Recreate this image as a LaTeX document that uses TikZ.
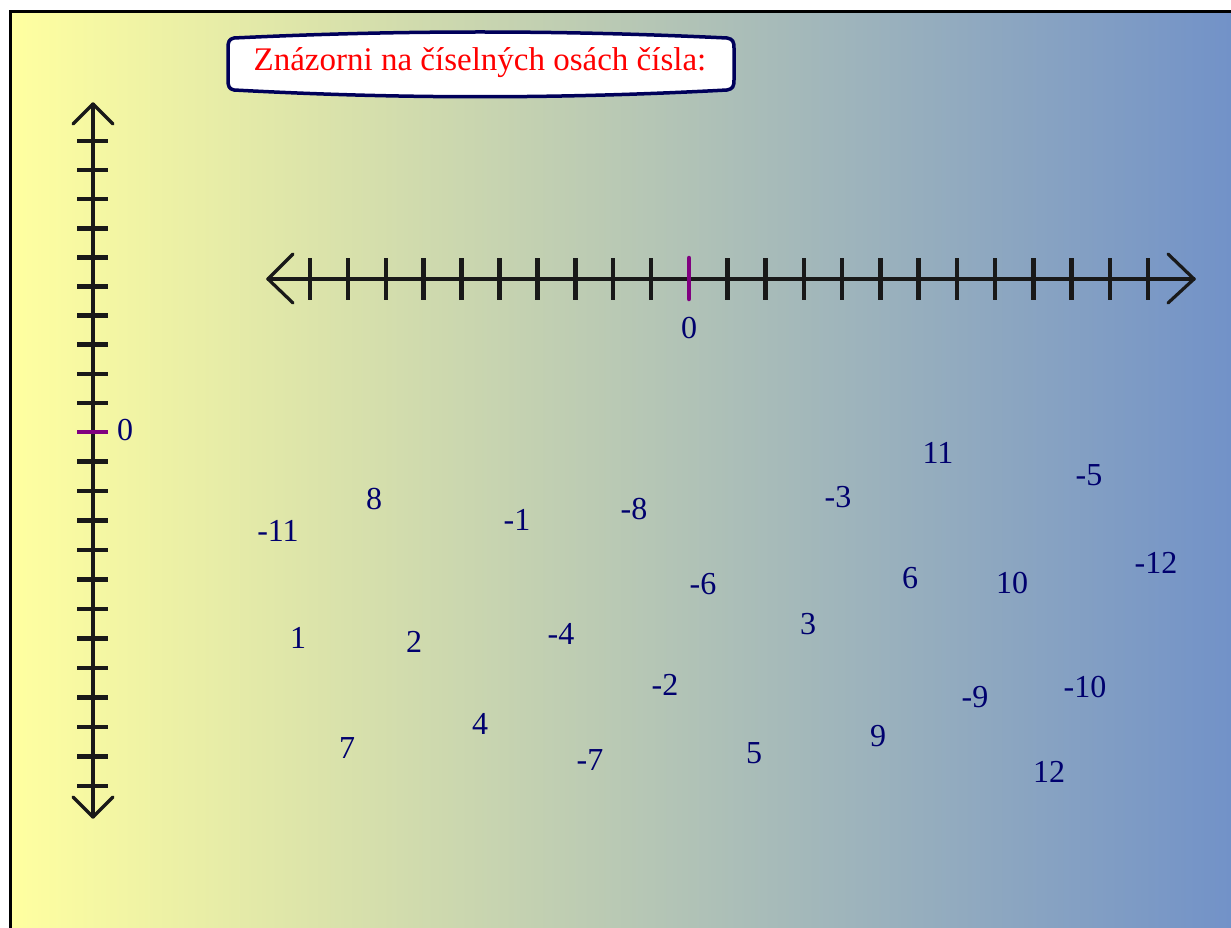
\documentclass[tikz,border=0pt]{standalone}
\usepackage{fontspec}
\setmainfont{Liberation Serif}
\definecolor{bgyellow}{RGB}{255,255,160}
\definecolor{bgblue}{RGB}{114,146,200}
\definecolor{numblue}{RGB}{0,0,110}
\definecolor{zeromag}{RGB}{128,0,128}
\definecolor{boxnavy}{RGB}{0,0,90}
\begin{document}
\begin{tikzpicture}[x=1pt,y=-1pt,
  num/.style={text=numblue, font=\fontsize{32}{36}\selectfont, inner sep=0pt},
  tickmark/.style={line width=4.5pt, black!90},
  axisline/.style={line width=3.2pt, black!90, line cap=round, line join=round},
  titlebox/.style={draw=boxnavy, line width=3.5pt, fill=white}]
\useasboundingbox (0,0) rectangle (1231,928);
\fill[white] (0,0) rectangle (1231,928);
\shade[left color=bgyellow, right color=bgblue] (10,12) rectangle (1231,928);
\draw[line width=3pt] (10,928) -- (10,12) -- (1231,12);

% title
\draw[titlebox] (234,38) .. controls (400,30) and (560,30) .. (727,38)
  .. controls (733,39) and (734,42) .. (734,48) -- (734,80)
  .. controls (734,86) and (733,89) .. (727,90)
  .. controls (560,99) and (400,99) .. (234,90)
  .. controls (229,89) and (228,86) .. (228,80) -- (228,48)
  .. controls (228,42) and (229,39) .. (234,38) -- cycle;
\node[text=red, font=\fontsize{33}{38}\selectfont, inner sep=0pt, anchor=base] (title) at (480,71) {Znázorni na číselných osách čísla:};

% horizontal axis
\coordinate (hL) at (268,279);
\coordinate (hR) at (1194,279);
\draw[axisline] (hL) -- (hR);
\draw[axisline] (293,254) -- (hL) -- (293,303);
\draw[axisline] (1168,254) -- (hR) -- (1168,303);
\foreach \k in {1,...,10} \draw[tickmark] ({689-37.9*\k},258) -- ({689-37.9*\k},300);
\foreach \k in {1,...,12} \draw[tickmark] ({689+38.25*\k},258) -- ({689+38.25*\k},300);
\draw[tickmark, zeromag, line cap=round] (689,258) -- (689,299);
\node[num] (h0) at (689,328) {0};

% vertical axis
\coordinate (vT) at (93,104);
\coordinate (vB) at (93,817);
\draw[axisline] (vT) -- (vB);
\draw[axisline] (73,124) -- (vT) -- (113,124);
\draw[axisline] (73,797) -- (vB) -- (113,797);
\foreach \k in {1,...,10} \draw[tickmark] (77,{432-29.1*\k}) -- (108,{432-29.1*\k});
\foreach \k in {1,...,12} \draw[tickmark] (77,{432+29.5*\k}) -- (108,{432+29.5*\k});
\draw[tickmark, zeromag] (77,432) -- (108,432);
\node[num] (v0) at (125,430) {0};

% numbers
\node[num] (a1) at (278,531) {-11};
\node[num] (a2) at (374,499) {8};
\node[num] (a3) at (517,520) {-1};
\node[num] (a4) at (634,509) {-8};
\node[num] (a5) at (838,497) {-3};
\node[num] (a6) at (938,453) {11};
\node[num] (a7) at (1089,475) {-5};
\node[num] (a8) at (703,584) {-6};
\node[num] (a9) at (910,578) {6};
\node[num] (a10) at (1012,583) {10};
\node[num] (a11) at (1156,563) {-12};
\node[num] (a12) at (298,638) {1};
\node[num] (a13) at (414,642) {2};
\node[num] (a14) at (561,634) {-4};
\node[num] (a15) at (808,624) {3};
\node[num] (a16) at (665,685) {-2};
\node[num] (a17) at (975,697) {-9};
\node[num] (a18) at (1085,687) {-10};
\node[num] (a19) at (347,748) {7};
\node[num] (a20) at (480,724) {4};
\node[num] (a21) at (590,760) {-7};
\node[num] (a22) at (754,753) {5};
\node[num] (a23) at (878,736) {9};
\node[num] (a24) at (1049,772) {12};
\end{tikzpicture}
\end{document}
